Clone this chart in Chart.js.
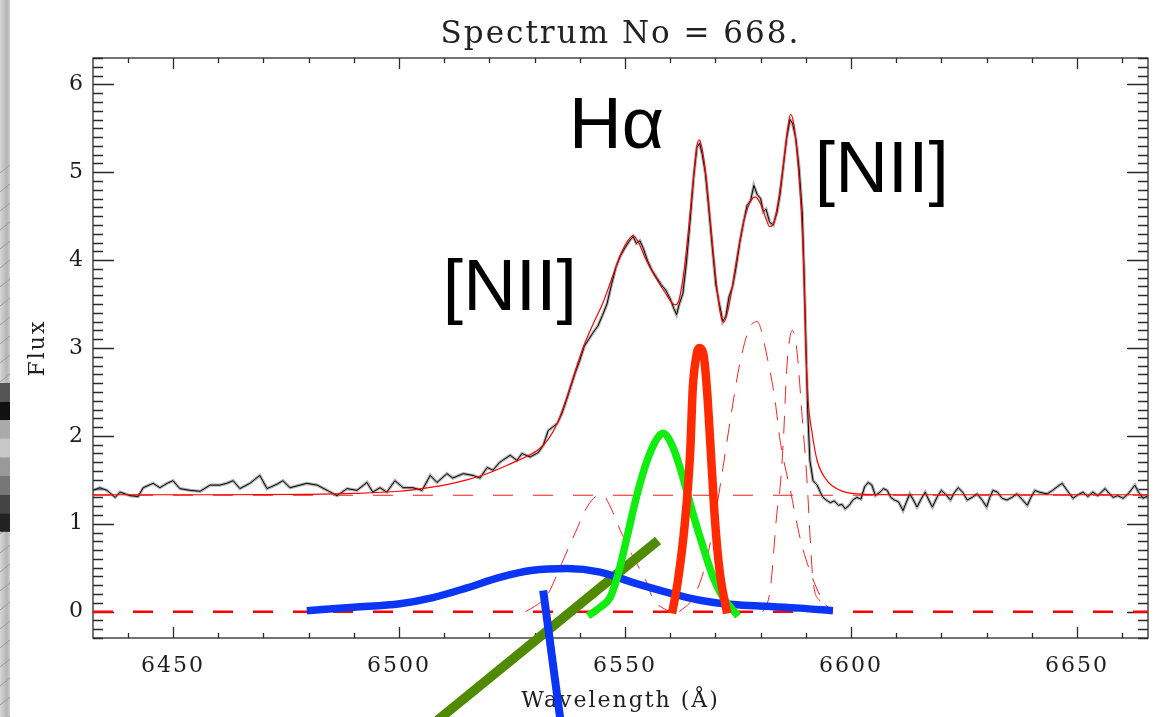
<!DOCTYPE html>
<html>
<head>
<meta charset="utf-8">
<script src="https://cdn.jsdelivr.net/npm/chart.js@4.4.1/dist/chart.umd.min.js"></script>
<style>
  html, body { margin: 0; padding: 0; background: #fff; }
  #chart { display: block; }
</style>
</head>
<body>
<canvas id="chart" width="1162" height="717"></canvas>
<script>
// observed spectrum (black, noisy)
const obsWave = [6432.3, 6433.8, 6435.4, 6437.2, 6438.3, 6440.5, 6442.3, 6443.4, 6445.6, 6447.1, 6448.7, 6450.0,
  6451.5, 6453.8, 6456.0, 6458.2, 6460.4, 6461.9, 6463.3, 6464.8, 6467.0, 6469.2, 6470.8, 6473.0, 6474.3, 6475.9,
  6478.1, 6479.6, 6481.9, 6484.1, 6486.3, 6488.5, 6490.7, 6492.9, 6494.2, 6495.8, 6497.3, 6499.1, 6500.9, 6503.1,
  6505.1, 6506.9, 6508.4, 6510.6, 6511.9, 6514.2, 6516.4, 6517.9, 6519.5, 6520.8, 6522.3, 6524.6, 6526.1, 6527.2,
  6529.0, 6530.8, 6531.9, 6533.0, 6534.0, 6535.0, 6536.0, 6537.0, 6538.0, 6539.0, 6540.0, 6541.0, 6542.0, 6543.0,
  6544.0, 6545.0, 6546.0, 6547.0, 6548.0, 6549.0, 6550.0, 6551.0, 6551.8, 6552.5, 6553.3, 6554.0, 6555.0, 6556.0,
  6557.0, 6558.0, 6559.0, 6560.0, 6560.8, 6561.4, 6562.0, 6562.8, 6563.6, 6564.4, 6565.2, 6565.9, 6566.5, 6567.1,
  6567.8, 6568.5, 6569.3, 6570.1, 6570.8, 6571.2, 6571.6, 6572.3, 6573.0, 6573.8, 6574.5, 6575.4, 6576.3, 6577.0,
  6577.8, 6578.5, 6579.2, 6580.0, 6580.6, 6581.2, 6582.0, 6582.8, 6583.6, 6584.3, 6585.0, 6585.8, 6586.5, 6587.1,
  6587.8, 6588.5, 6589.2, 6589.6, 6590.0, 6590.4, 6590.9, 6591.6, 6592.5, 6593.2, 6593.8, 6594.5, 6595.4, 6596.3,
  6597.2, 6598.0, 6598.7, 6599.6, 6600.4, 6601.3, 6602.2, 6603.0, 6603.8, 6604.6, 6605.4, 6606.4, 6607.2, 6608.0,
  6608.8, 6609.6, 6610.5, 6611.5, 6612.2, 6613.0, 6613.8, 6614.6, 6615.5, 6616.4, 6617.2, 6618.0, 6619.0, 6620.0,
  6621.0, 6622.0, 6622.8, 6623.7, 6624.7, 6625.7, 6626.8, 6627.9, 6629.0, 6630.0, 6630.7, 6631.4, 6632.4, 6633.4,
  6634.5, 6635.6, 6636.7, 6637.8, 6639.0, 6639.8, 6640.7, 6641.6, 6642.5, 6643.4, 6644.6, 6645.6, 6646.7, 6647.8,
  6649.1, 6650.2, 6651.3, 6652.4, 6653.5, 6654.6, 6655.4, 6656.2, 6657.0, 6658.0, 6659.0, 6660.2, 6661.3, 6662.8,
  6663.6, 6664.6, 6665.7];
const obsFlux = [1.38, 1.41, 1.38, 1.30, 1.36, 1.32, 1.31, 1.41, 1.46, 1.41, 1.46, 1.49,
  1.40, 1.38, 1.37, 1.44, 1.44, 1.46, 1.49, 1.40, 1.46, 1.55, 1.40, 1.45, 1.49, 1.41,
  1.44, 1.46, 1.44, 1.38, 1.32, 1.40, 1.38, 1.47, 1.36, 1.41, 1.36, 1.49, 1.41, 1.41,
  1.38, 1.55, 1.47, 1.57, 1.52, 1.57, 1.55, 1.52, 1.64, 1.61, 1.70, 1.78, 1.72, 1.80,
  1.76, 1.81, 1.89, 2.06, 2.10, 2.14, 2.25, 2.40, 2.56, 2.72, 2.86, 3.02, 3.10, 3.18,
  3.25, 3.37, 3.50, 3.72, 3.92, 4.05, 4.14, 4.22, 4.27, 4.19, 4.22, 4.14, 3.99, 3.88,
  3.80, 3.72, 3.66, 3.56, 3.45, 3.38, 3.50, 3.62, 3.98, 4.45, 4.95, 5.28, 5.33, 5.20,
  4.98, 4.60, 4.15, 3.72, 3.52, 3.42, 3.30, 3.36, 3.58, 3.70, 3.90, 4.20, 4.45, 4.62,
  4.68, 4.85, 4.75, 4.70, 4.55, 4.58, 4.43, 4.40, 4.54, 4.75, 5.06, 5.40, 5.60, 5.55,
  5.38, 5.05, 4.55, 3.90, 3.10, 2.30, 1.72, 1.49, 1.44, 1.36, 1.30, 1.27, 1.24, 1.26,
  1.21, 1.22, 1.17, 1.21, 1.27, 1.30, 1.28, 1.42, 1.47, 1.44, 1.32, 1.36, 1.40, 1.38,
  1.30, 1.27, 1.25, 1.15, 1.24, 1.34, 1.27, 1.19, 1.28, 1.36, 1.27, 1.19, 1.30, 1.38,
  1.33, 1.27, 1.35, 1.41, 1.36, 1.27, 1.30, 1.34, 1.27, 1.19, 1.30, 1.38, 1.36, 1.29,
  1.27, 1.30, 1.34, 1.28, 1.21, 1.30, 1.38, 1.36, 1.35, 1.34, 1.38, 1.42, 1.46, 1.38,
  1.29, 1.33, 1.36, 1.31, 1.36, 1.32, 1.36, 1.40, 1.35, 1.30, 1.32, 1.29, 1.34, 1.44,
  1.36, 1.29, 1.32];

// total fit (thin red)
const fitWave = [6432.3, 6460, 6480, 6490, 6500, 6505, 6510, 6515, 6520, 6525, 6528, 6531, 6533, 6535, 6537, 6539,
  6541, 6543, 6545, 6547, 6549, 6550.5, 6551.8, 6553, 6554.5, 6556, 6557.5, 6559, 6560.3, 6561.1, 6562, 6563,
  6564, 6565, 6565.9, 6566.4, 6567, 6568, 6569, 6570, 6571, 6571.8, 6573, 6574.5, 6576, 6577.5, 6578.8, 6580,
  6581, 6582, 6583, 6584, 6585, 6586, 6586.6, 6587.3, 6588, 6589, 6589.5, 6590, 6590.5, 6591.4, 6592.5, 6594.7,
  6597.6, 6601.3, 6610, 6665.7];
const fitFlux = [1.33, 1.33, 1.335, 1.345, 1.37, 1.40, 1.44, 1.50, 1.58, 1.69, 1.76, 1.85, 1.96, 2.14, 2.42, 2.74,
  3.04, 3.28, 3.50, 3.78, 4.06, 4.21, 4.28, 4.20, 4.02, 3.87, 3.74, 3.62, 3.52, 3.49, 3.56, 3.86,
  4.32, 4.87, 5.30, 5.37, 5.28, 4.92, 4.38, 3.84, 3.42, 3.29, 3.48, 3.95, 4.38, 4.64, 4.72, 4.64,
  4.50, 4.38, 4.44, 4.70, 5.08, 5.50, 5.66, 5.56, 5.25, 4.55, 3.95, 2.98, 2.41, 2.03, 1.72, 1.49,
  1.38, 1.34, 1.33, 1.33];

// continuum and zero level (dashed)
const levelWave = [6432.3, 6665.7];
const contFlux = [1.325, 1.325];
const zeroFlux = [0, 0];

// fitted components (thin dashed red)
const comp1Wave = [6528, 6530, 6532.7, 6536, 6539, 6541.6, 6543.5, 6545, 6546.5, 6549, 6551, 6553.3, 6554.9, 6556.2, 6558.4, 6560];
const comp1Flux = [0.0, 0.06, 0.18, 0.55, 0.90, 1.19, 1.31, 1.33, 1.22, 0.92, 0.70, 0.48, 0.32, 0.14, 0.04, 0.0];
const comp2Wave = [6562, 6565, 6567.5, 6569.5, 6571.5, 6573.5, 6575.5, 6577.5, 6579.2, 6581.6, 6583.2, 6584.3, 6586.7, 6588.9, 6591, 6593.8, 6596];
const comp2Flux = [0.0, 0.15, 0.48, 0.95, 1.58, 2.25, 2.85, 3.22, 3.30, 2.86, 2.40, 1.95, 1.35, 0.80, 0.45, 0.12, 0.0];
const comp3Wave = [6580.5, 6582.1, 6583.6, 6584.3, 6585.0, 6585.8, 6587.0, 6588.0, 6589.2, 6590.3, 6590.9, 6591.6, 6593.1, 6595];
const comp3Flux = [0.0, 0.24, 1.12, 1.41, 1.92, 2.78, 3.20, 2.98, 2.21, 1.46, 0.89, 0.35, 0.12, 0.0];

// thick highlighted components
const greenWave = [6541.8, 6544.5, 6546.7, 6548.5, 6550.4, 6552.7, 6554.9, 6557.1, 6558.4, 6560.6, 6562.8, 6565, 6567.3, 6569.5, 6571.7, 6575];
const greenFlux = [-0.05, 0.05, 0.16, 0.43, 0.84, 1.34, 1.72, 1.97, 2.03, 1.87, 1.53, 1.12, 0.73, 0.39, 0.16, -0.05];
const redWave = [6560.4, 6561.7, 6563.3, 6564.4, 6565.0, 6565.9, 6566.4, 6567.3, 6568.1, 6569.0, 6569.9, 6571.0, 6572.6];
const redFlux = [-0.02, 0.35, 1.04, 1.80, 2.55, 2.94, 3.00, 2.94, 2.55, 1.80, 1.04, 0.43, -0.02];
const blueWave = [6479.6, 6490, 6500.2, 6507.5, 6515, 6522.3, 6529.6, 6537.2, 6544.5, 6551.8, 6559.3, 6566.6, 6573.9, 6581.4, 6588.7, 6596];
const blueFlux = [0.01, 0.05, 0.09, 0.16, 0.27, 0.39, 0.47, 0.49, 0.45, 0.33, 0.22, 0.13, 0.08, 0.06, 0.04, 0.01];

// hand-drawn strokes
const oliveWave = [6505.8, 6557.3];
const oliveFlux = [-1.35, 0.81];
const strokeWave = [6531.9, 6536.0];
const strokeFlux = [0.24, -1.35];

const xTicks = [6450, 6500, 6550, 6600, 6650];
const yTicks = [0, 1, 2, 3, 4, 5, 6];

function pairs(xs, ys) {
  return xs.map((x, i) => ({ x: x, y: ys[i] }));
}

function lineSet(label, xs, ys, color, width, order, extra) {
  return Object.assign({
    label: label,
    data: pairs(xs, ys),
    borderColor: color,
    borderWidth: width,
    pointRadius: 0,
    fill: false,
    tension: 0,
    order: order
  }, extra || {});
}

const smooth = { cubicInterpolationMode: 'monotone' };

const datasets = [
  lineSet('zero', levelWave, zeroFlux, '#ff0000', 2.5, 10, { borderDash: [20, 20] }),
  lineSet('continuum', levelWave, contFlux, '#ff1a1a', 1.1, 10, { borderDash: [20, 20] }),
  lineSet('comp1', comp1Wave, comp1Flux, '#ff2020', 1, 10, Object.assign({ borderDash: [18, 12] }, smooth)),
  lineSet('comp2', comp2Wave, comp2Flux, '#ff2020', 1, 10, Object.assign({ borderDash: [18, 12] }, smooth)),
  lineSet('comp3', comp3Wave, comp3Flux, '#ff2020', 1, 10, Object.assign({ borderDash: [18, 12] }, smooth)),
  lineSet('errors', obsWave, obsFlux, 'rgba(150,150,150,0.75)', 3.2, 9),
  lineSet('observed', obsWave, obsFlux, '#000000', 1, 8),
  lineSet('fit', fitWave, fitFlux, '#ff0000', 1.2, 7, smooth),
  lineSet('olive', oliveWave, oliveFlux, '#4f8a00', 9.5, 6, { clip: false }),
  lineSet('broad', blueWave, blueFlux, '#0a35f5', 7.5, 5, smooth),
  lineSet('stroke', strokeWave, strokeFlux, '#0a35f5', 8, 4, { clip: false }),
  lineSet('green', greenWave, greenFlux, '#10ee10', 7.5, 3, smooth),
  lineSet('halpha', redWave, redFlux, '#ff2a00', 8.5, 2, smooth)
];

// big line labels, anchored in data space
const lineLabels = [
  { text: 'H\u03b1', x: 6537.6, y: 5.28 },
  { text: '[NII]', x: 6509.7, y: 3.43 },
  { text: '[NII]', x: 6592.0, y: 4.78 }
];

// screenshot edge on the left
const edgePlugin = {
  id: 'edge',
  beforeDraw(chart) {
    const ctx = chart.ctx;
    ctx.letterSpacing = '2px';
    ctx.save();
    const g = ctx.createLinearGradient(0, 0, 10, 0);
    g.addColorStop(0, '#d6d6d6');
    g.addColorStop(0.7, '#b4b4b4');
    g.addColorStop(1, '#cfcfcf');
    ctx.fillStyle = g;
    ctx.fillRect(0, 0, 10, 717);
    ctx.strokeStyle = '#9a9a9a';
    ctx.lineWidth = 1;
    ctx.beginPath();
    for (let y = 165; y < 717; y += 19) {
      ctx.moveTo(0, y + 8);
      ctx.lineTo(10, y);
    }
    ctx.stroke();
    const blocks = ['#555', '#111', '#aaa', '#c8c8c8', '#999', '#777', '#444', '#222'];
    blocks.forEach((c, i) => {
      ctx.fillStyle = c;
      ctx.fillRect(0, 383 + i * 18.6, 10, 18.6);
    });
    ctx.restore();
  }
};

// IDL style box with inward major and minor ticks on all four sides
const framePlugin = {
  id: 'frame',
  beforeDatasetsDraw(chart) {
    const { ctx, chartArea: a, scales: { x, y } } = chart;
    ctx.save();
    ctx.strokeStyle = '#2a2a2a';
    ctx.lineWidth = 1.3;
    ctx.strokeRect(a.left, a.top, a.right - a.left, a.bottom - a.top);
    ctx.beginPath();
    for (let v = 6440; v <= 6660; v += 10) {
      const px = Math.round(x.getPixelForValue(v)) + 0.5;
      const len = xTicks.includes(v) ? 11 : 5;
      ctx.moveTo(px, a.bottom);
      ctx.lineTo(px, a.bottom - len);
      ctx.moveTo(px, a.top);
      ctx.lineTo(px, a.top + len);
    }
    for (let i = -3; i <= 63; i++) {
      const py = Math.round(y.getPixelForValue(i / 10)) + 0.5;
      const len = yTicks.includes(i / 10) ? 21 : 10;
      ctx.moveTo(a.left, py);
      ctx.lineTo(a.left + len, py);
      ctx.moveTo(a.right, py);
      ctx.lineTo(a.right - len, py);
    }
    ctx.stroke();
    ctx.restore();
  }
};

const labelPlugin = {
  id: 'lineLabels',
  afterDatasetsDraw(chart) {
    const { ctx, scales: { x, y } } = chart;
    ctx.save();
    ctx.letterSpacing = '0px';
    ctx.font = '73px "Liberation Sans", Arial, sans-serif';
    ctx.fillStyle = '#000';
    ctx.textAlign = 'left';
    ctx.textBaseline = 'alphabetic';
    lineLabels.forEach(l => {
      ctx.fillText(l.text, x.getPixelForValue(l.x), y.getPixelForValue(l.y));
    });
    ctx.restore();
  }
};

Chart.defaults.font.family = '"DejaVu Serif", serif';
Chart.defaults.color = '#1e1e1e';

new Chart(document.getElementById('chart').getContext('2d'), {
  type: 'line',
  data: { datasets: datasets },
  options: {
    responsive: false,
    animation: false,
    devicePixelRatio: 1,
    layout: { padding: { left: 0, right: 14, top: 0, bottom: 0 } },
    plugins: {
      legend: { display: false },
      tooltip: { enabled: false },
      title: {
        display: true,
        text: 'Spectrum No = 668.',
        fullSize: false,
        color: '#222',
        font: { size: 31, weight: 'normal' },
        padding: { top: 16, bottom: 4.8 }
      }
    },
    scales: {
      x: {
        type: 'linear',
        min: 6432.3,
        max: 6665.7,
        grid: { display: false, drawTicks: false },
        border: { display: false },
        ticks: {
          stepSize: 50,
          includeBounds: false,
          autoSkip: false,
          maxRotation: 0,
          padding: 15,
          font: { size: 22 },
          callback: v => String(v)
        },
        title: { display: true, text: 'Wavelength (\u00c5)', font: { size: 22 }, padding: { top: 0, bottom: 3 } },
        afterFit: s => { s.height = 79; }
      },
      y: {
        min: -0.3,
        max: 6.3,
        grid: { display: false, drawTicks: false },
        border: { display: false },
        ticks: {
          stepSize: 1,
          includeBounds: false,
          padding: 8,
          font: { size: 22 },
          callback: v => String(v)
        },
        title: { display: true, text: 'Flux', font: { size: 22 }, padding: { top: 25, bottom: 0 } },
        afterFit: s => { s.width = 93; }
      }
    }
  },
  plugins: [edgePlugin, framePlugin, labelPlugin]
});
</script>
</body>
</html>
